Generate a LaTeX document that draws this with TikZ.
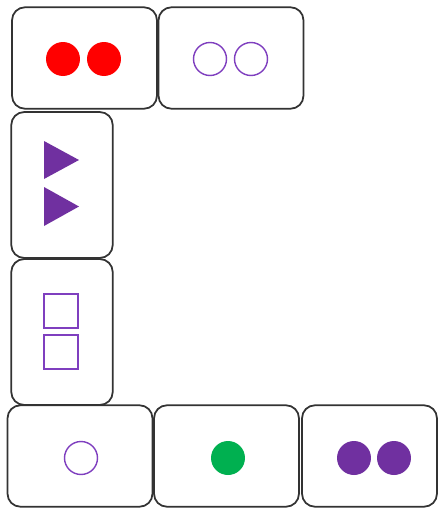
\documentclass[tikz,border=0pt]{standalone}
\usepackage{xcolor}
\usepackage{tikz}
\usetikzlibrary{positioning,shapes.geometric}

\definecolor{tokred}{HTML}{FF0000}
\definecolor{tokpurple}{HTML}{7030A0}
\definecolor{tokline}{HTML}{7F3FBF}
\definecolor{tokgreen}{HTML}{00B050}

\begin{document}
\begin{tikzpicture}[x=0.02cm,y=-0.02cm,
  card/.style={draw=black!80,line width=1pt,rounded corners=0.26cm,fill=white,inner sep=0pt},
  wide/.style={card,minimum width=2.9cm,minimum height=2.03cm},
  tall/.style={card,minimum width=2.03cm,minimum height=2.92cm},
  fulldot/.style={circle,inner sep=0pt,minimum size=0.68cm},
  opendot/.style={circle,draw=tokline,line width=0.8pt,inner sep=0pt,minimum size=0.66cm}]
\useasboundingbox (0,0) rectangle (439,508);
\begin{scope}
% cards
\node[wide] (top1) at (84.5,58) {};
\node[wide] (top2) at (231,58) {};
\node[tall] (side1) at (62,185) {};
\node[tall] (side2) at (62,332) {};
\node[wide] (bot1) at (80,456) {};
\node[wide] (bot2) at (226.5,456) {};
\node[card,minimum width=2.7cm,minimum height=2.03cm] (bot3) at (369.5,456) {};
% tokens
\node[fulldot,fill=tokred] (red1) at (63,59) {};
\node[fulldot,fill=tokred] (red2) at (104,59) {};
\node[opendot] (ring1) at (210,59) {};
\node[opendot] (ring2) at (251,59) {};
\fill[tokpurple] (44,141) -- (79,160) -- (44,179) -- cycle;
\fill[tokpurple] (44,187) -- (79,206.5) -- (44,226) -- cycle;
\draw[tokline,line width=0.8pt] (44,294) rectangle (78,328);
\draw[tokline,line width=0.8pt] (44,335) rectangle (78,369);
\node[opendot] (ring3) at (81,458) {};
\node[fulldot,fill=tokgreen] (green1) at (228,458) {};
\node[fulldot,fill=tokpurple] (purp1) at (354,458) {};
\node[fulldot,fill=tokpurple] (purp2) at (394,458) {};
\end{scope}
\end{tikzpicture}
\end{document}
